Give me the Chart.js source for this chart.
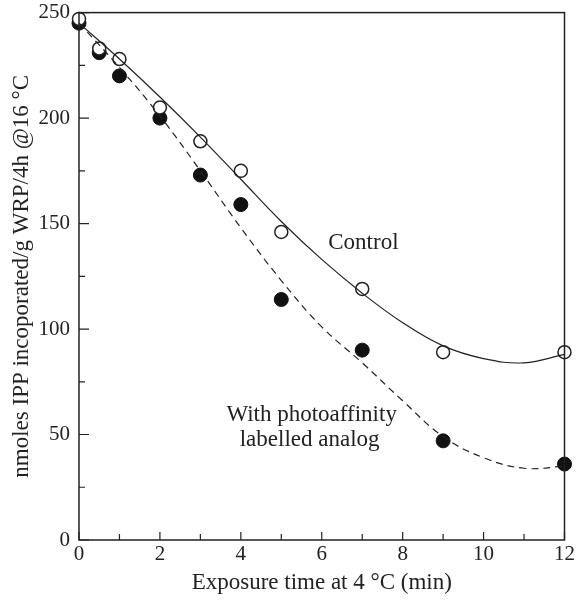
<!DOCTYPE html>
<html><head><meta charset="utf-8">
<script src="https://cdn.jsdelivr.net/npm/chart.js@4.4.1/dist/chart.umd.min.js"></script>
<style>html,body{margin:0;padding:0;background:#fff}#wrap{width:577px;height:600px}</style>
</head><body><div id="wrap"><canvas id="c" width="577" height="600"></canvas></div>
<script>
// Measured points
const timeX = [0, 0.5, 1, 2, 3, 4, 5, 7, 9, 12];
const controlY = [247, 233, 228, 205, 189, 175, 146, 119, 89, 89];
const photoY = [245, 231, 220, 200, 173, 159, 114, 90, 47, 36];
// Fitted curves
const fitX = [0, 1, 2, 3, 4, 5, 6, 7, 8, 9, 10, 11, 12];
const controlFit = [245, 228, 210, 191, 171, 151, 133, 117, 103, 92, 86, 84, 88];
const photoFit = [245, 224, 201, 175, 148, 123, 101, 84, 66, 49, 39, 34, 35];
const xTickLabels = ['0', '2', '4', '6', '8', '10', '12'];
const yTickLabels = ['0', '50', '100', '150', '200', '250'];

const FONT = '"Liberation Serif", "DejaVu Serif", serif';
const pts = (xs, ys) => xs.map((x, i) => ({x, y: ys[i]}));

const frame = {
  id: 'frame',
  afterDatasetsDraw(chart) {
    const {ctx, chartArea: a, scales: {x, y}} = chart;
    ctx.save();
    ctx.strokeStyle = '#222';
    ctx.lineWidth = 1.5;
    ctx.strokeRect(a.left, a.top, a.right - a.left, a.bottom - a.top);
    ctx.lineWidth = 1.2;
    ctx.beginPath();
    for (let v = 0; v <= 12; v++) {
      const px = x.getPixelForValue(v);
      const len = v % 2 === 0 ? 8 : 6;
      ctx.moveTo(px, a.bottom); ctx.lineTo(px, a.bottom - len);
    }
    for (let v = 0; v <= 250; v += 25) {
      const py = y.getPixelForValue(v);
      const len = v % 50 === 0 ? 10 : 6;
      ctx.moveTo(a.left, py); ctx.lineTo(a.left + len, py);
    }
    ctx.stroke();
    ctx.fillStyle = '#222';
    ctx.font = '23px ' + FONT;
    ctx.textAlign = 'center';
    ctx.textBaseline = 'middle';
    ctx.fillText('Control', x.getPixelForValue(7.03), y.getPixelForValue(141));
    ctx.fillText('With photoaffinity', x.getPixelForValue(5.75), y.getPixelForValue(59.3));
    ctx.fillText('labelled analog', x.getPixelForValue(5.7), y.getPixelForValue(47.4));
    ctx.restore();
  }
};

new Chart(document.getElementById('c'), {
  type: 'scatter',
  data: {
    datasets: [
      {type: 'line', data: pts(fitX, controlFit), borderColor: '#222', borderWidth: 1.2,
       pointRadius: 0, tension: 0.4, fill: false},
      {type: 'line', data: pts(fitX, photoFit), borderColor: '#222', borderWidth: 1.2, borderDash: [7, 5],
       pointRadius: 0, tension: 0.4, fill: false},
      {data: pts(timeX, controlY), pointRadius: 6.5, pointBackgroundColor: '#fff',
       pointBorderColor: '#222', pointBorderWidth: 1.5},
      {data: pts(timeX, photoY), pointRadius: 7, pointBackgroundColor: '#111',
       pointBorderColor: '#111', pointBorderWidth: 1}
    ]
  },
  options: {
    responsive: false,
    animation: false,
    clip: false,
    layout: {padding: {top: 0, right: 10, left: 0, bottom: 0}},
    plugins: {legend: {display: false}, tooltip: {enabled: false}},
    scales: {
      x: {
        type: 'linear', min: 0, max: 12,
        grid: {display: false, drawTicks: false},
        border: {display: false},
        afterBuildTicks(s) { s.ticks = xTickLabels.map(t => ({value: Number(t)})); },
        afterFit(s) { s.height = 60; },
        ticks: {color: '#222', padding: 2, font: {family: FONT, size: 21},
                callback: (v) => xTickLabels.includes(String(v)) ? String(v) : ''},
        title: {display: true, text: 'Exposure time at 4 °C (min)', color: '#222',
                font: {family: FONT, size: 23}, padding: {top: 0, bottom: 3}}
      },
      y: {
        type: 'linear', min: 0, max: 250,
        grid: {display: false, drawTicks: true, tickLength: 9},
        border: {display: false},
        afterBuildTicks(s) { s.ticks = yTickLabels.map(t => ({value: Number(t)})); },
        afterFit(s) { s.width = 79; },
        ticks: {color: '#222', padding: 0, font: {family: FONT, size: 21},
                callback: (v) => String(v)},
        title: {display: true, text: 'nmoles IPP incoporated/g WRP/4h @16 °C', color: '#222',
                font: {family: FONT, size: 23}, padding: {top: 8, bottom: 0}}
      }
    }
  },
  plugins: [frame]
});
</script>
</body></html>
